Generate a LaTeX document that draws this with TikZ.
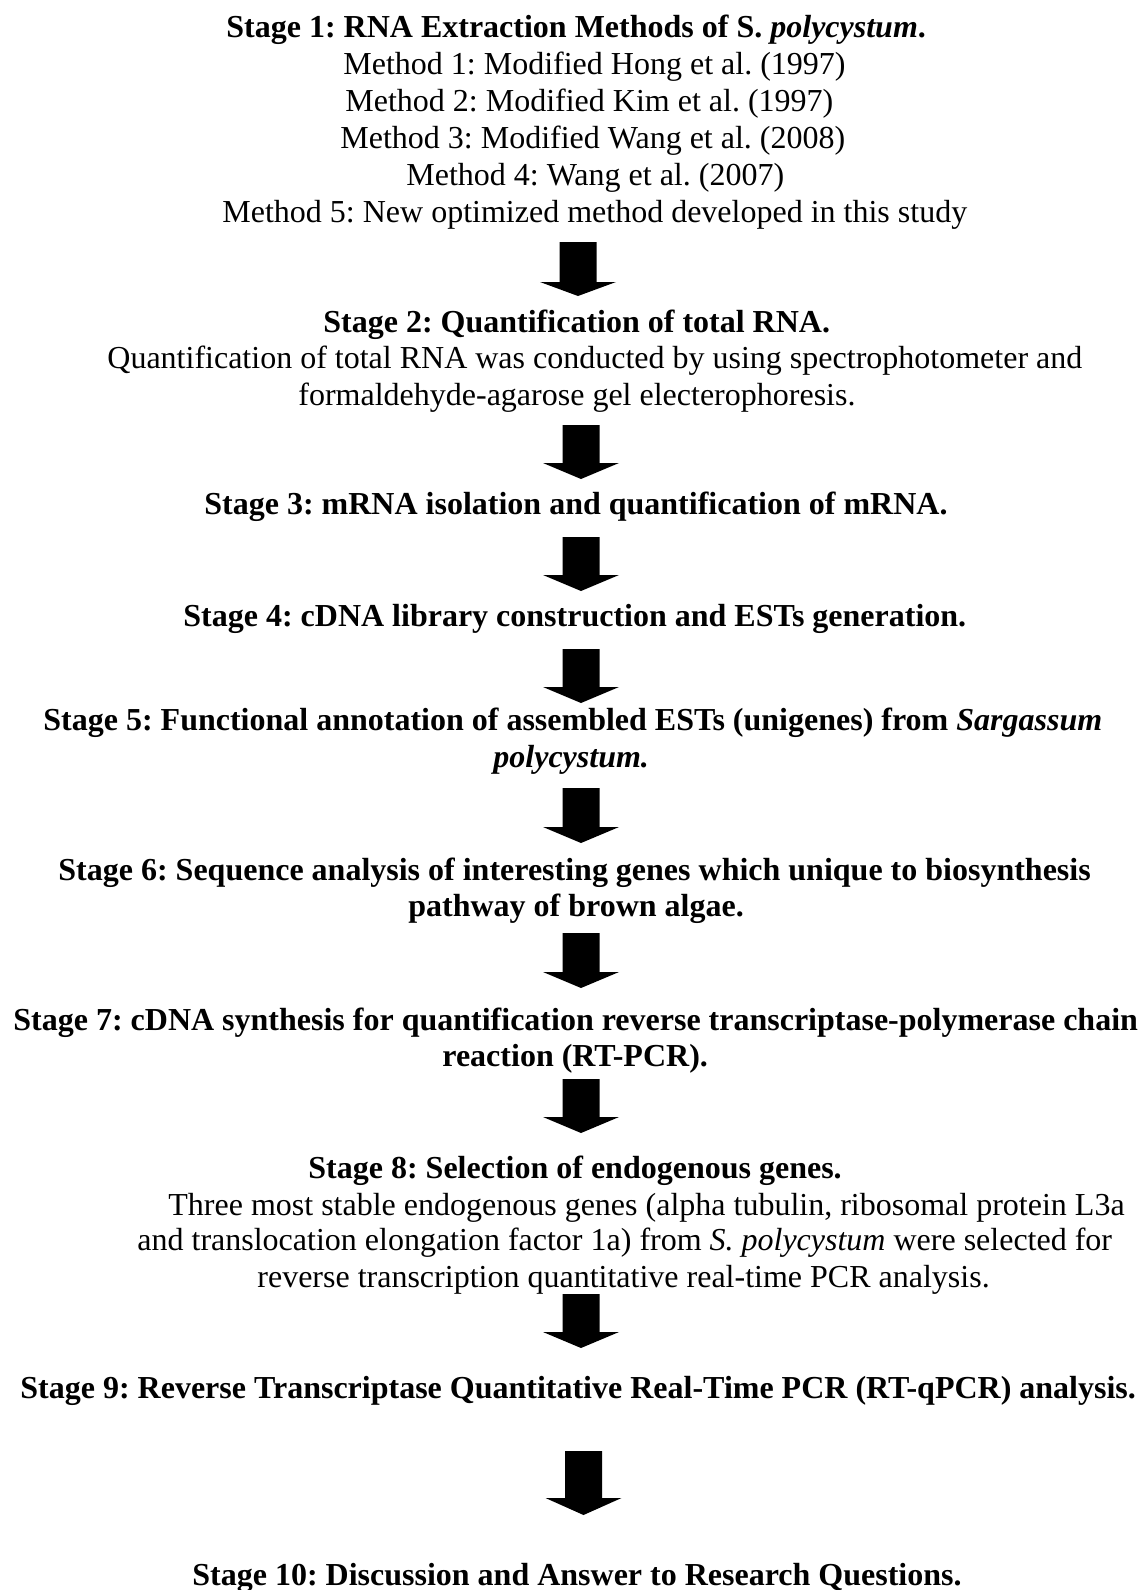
\documentclass[tikz,border=0pt]{standalone}
\usepackage{fontspec}
\setmainfont{Liberation Serif}
\usepackage{tikz}
\frenchspacing
\begin{document}
\begin{tikzpicture}[x=0.5pt, y=-0.5pt,
            line/.style={anchor=base west, inner sep=0pt, font=\fontsize{16}{18}\selectfont},
            title/.style={line, font=\fontsize{16}{18}\selectfont\bfseries},
            flow/.style={fill=black}
        ]
        \useasboundingbox (0,0) rectangle (1145,1590);

        % Stage 1
        \node[title] (s1) at (226,38) {Stage 1: RNA Extraction Methods of S. \textit{polycystum}.};
        \node[line] (m1) at (343,74.8) {Method 1: Modified Hong et al. (1997)};
        \node[line] (m2) at (345,111.6) {Method 2: Modified Kim et al. (1997)};
        \node[line] (m3) at (340,148.4) {Method 3: Modified Wang et al. (2008)};
        \node[line] (m4) at (406,185.2) {Method 4: Wang et al. (2007)};
        \node[line] (m5) at (222,222) {Method 5: New optimized method developed in this study};

        % Stage 2
        \node[title] (s2) at (323,332) {Stage 2: Quantification of total RNA.};
        \node[line] (s2a) at (107,368) {Quantification of total RNA was conducted by using spectrophotometer and};
        \node[line] (s2b) at (298,405) {formaldehyde-agarose gel electerophoresis.};

        % Stages 3 to 7
        \node[title] (s3) at (204,514) {Stage 3: mRNA isolation and quantification of mRNA.};
        \node[title] (s4) at (183,626) {Stage 4: cDNA library construction and ESTs generation.};
        \node[title] (s5a) at (43,730) {Stage 5: Functional annotation of assembled ESTs (unigenes) from \textit{Sargassum}};
        \node[title] (s5b) at (493,767) {\textit{polycystum.}};
        \node[title] (s6a) at (58,880) {Stage 6: Sequence analysis of interesting genes which unique to biosynthesis};
        \node[title] (s6b) at (408,916) {pathway of brown algae.};
        \node[title] (s7a) at (13,1030) {Stage 7: cDNA synthesis for quantification reverse transcriptase-polymerase chain};
        \node[title] (s7b) at (442,1066) {reaction (RT-PCR).};

        % Stage 8
        \node[title] (s8) at (308,1178) {Stage 8: Selection of endogenous genes.};
        \node[line] (s8a) at (168,1215) {Three most stable endogenous genes (alpha tubulin, ribosomal protein L3a};
        \node[line] (s8b) at (137,1250) {and translocation elongation factor 1a) from \textit{S. polycystum} were selected for};
        \node[line] (s8c) at (257,1287) {reverse transcription quantitative real-time PCR analysis.};

        % Stages 9 and 10
        \node[title] (s9) at (20,1398) {Stage 9: Reverse Transcriptase Quantitative Real-Time PCR (RT-qPCR) analysis.};
        \node[title] (s10) at (192,1585) {Stage 10: Discussion and Answer to Research Questions.};

        % Arrows
        \fill[flow] (559.5,242) -- ++(37,0) -- ++(0,40) -- ++(19.5,0) -- ++(-38,14) -- ++(-38,-14) -- ++(19.5,0) -- cycle;
        \fill[flow] (562.5,425) -- ++(37,0) -- ++(0,38) -- ++(19.5,0) -- ++(-38,16) -- ++(-38,-16) -- ++(19.5,0) -- cycle;
        \fill[flow] (562.5,537) -- ++(37,0) -- ++(0,38) -- ++(19.5,0) -- ++(-38,16) -- ++(-38,-16) -- ++(19.5,0) -- cycle;
        \fill[flow] (562.5,649) -- ++(37,0) -- ++(0,38) -- ++(19.5,0) -- ++(-38,16) -- ++(-38,-16) -- ++(19.5,0) -- cycle;
        \fill[flow] (562.5,788) -- ++(37,0) -- ++(0,39) -- ++(19.5,0) -- ++(-38,16) -- ++(-38,-16) -- ++(19.5,0) -- cycle;
        \fill[flow] (562.5,933) -- ++(37,0) -- ++(0,39) -- ++(19.5,0) -- ++(-38,16) -- ++(-38,-16) -- ++(19.5,0) -- cycle;
        \fill[flow] (562.5,1079) -- ++(37,0) -- ++(0,38) -- ++(19.5,0) -- ++(-38,16) -- ++(-38,-16) -- ++(19.5,0) -- cycle;
        \fill[flow] (562.5,1294) -- ++(37,0) -- ++(0,38) -- ++(19.5,0) -- ++(-38,16) -- ++(-38,-16) -- ++(19.5,0) -- cycle;
        \fill[flow] (565,1451) -- ++(37,0) -- ++(0,47) -- ++(19.5,0) -- ++(-38,17) -- ++(-38,-17) -- ++(19.5,0) -- cycle;

        \end{tikzpicture}
\end{document}
